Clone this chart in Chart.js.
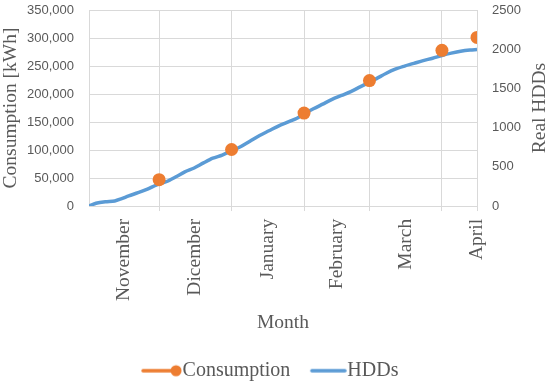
<!DOCTYPE html>
<html>
<head>
<meta charset="utf-8">
<script src="https://cdn.jsdelivr.net/npm/chart.js@4.4.0/dist/chart.umd.min.js"></script>
<style>
  html, body { margin: 0; padding: 0; background: #fff; }
</style>
</head>
<body>
<canvas id="grafica" width="550" height="383"></canvas>
<script>
// dias contados desde el 1 de noviembre
const meses = ['November', 'Dicember', 'January', 'February', 'March', 'April'];
const diasEtiqueta = [15, 45.5, 76.5, 106, 135.5, 166];
const diasFinMes = [30, 61, 92, 120, 151, 166];

// consumo acumulado al final de cada mes (kWh)
const diasConsumo = [30, 61, 92, 120, 151, 166];
const consumo = [47000, 101000, 166000, 224000, 278000, 301000];

// grados-dia reales acumulados
const diasHDD = [0, 3, 7, 11, 14, 17, 21, 25, 29, 33, 37, 41, 45, 49, 53, 57, 61, 65, 69, 73, 77, 81,
  85, 89, 92, 96, 100, 104, 108, 112, 116, 119, 123, 127, 131, 135, 139, 143, 147, 151, 155, 159, 163, 166];
const hdd = [0, 35, 55, 65, 95, 130, 170, 215, 270, 310, 370, 435, 485, 550, 610, 650, 705, 760, 830, 900, 960, 1020,
  1070, 1120, 1175, 1240, 1300, 1360, 1410, 1460, 1520, 1565, 1625, 1690, 1745, 1785, 1820, 1855, 1885, 1920, 1950, 1975, 1990, 1995];

const naranja = '#ED7D31';
const azul = '#5B9BD5';
const gris = '#595959';
const rejilla = '#d9d9d9';
const serif = "'Liberation Serif', serif";
const sans = "'Liberation Sans', sans-serif";

// iconos de la leyenda (linea con marcador, linea sola)
function iconoLeyenda(color, conPunto) {
  const c = document.createElement('canvas');
  c.width = 43; c.height = 14;
  const g = c.getContext('2d');
  g.strokeStyle = color;
  g.lineWidth = 3.5;
  g.lineCap = 'round';
  g.beginPath();
  g.moveTo(conPunto ? 4 : 8, 7);
  g.lineTo(conPunto ? 36 : 41, 7);
  g.stroke();
  if (conPunto) {
    g.fillStyle = color;
    g.beginPath();
    g.arc(37, 7, 5.5, 0, Math.PI * 2);
    g.fill();
  }
  return c;
}
const iconos = [iconoLeyenda(naranja, true), iconoLeyenda(azul, false)];

// sin relleno extra de las etiquetas en los bordes
const sinRelleno = axis => {
  axis.paddingLeft = 0;
  axis.paddingRight = 0;
  axis.paddingTop = 0;
  axis.paddingBottom = 0;
};

// titulo del eje derecho, leido de abajo hacia arriba como en el original
const tituloDerecho = {
  id: 'tituloDerecho',
  afterDraw(chart) {
    const a = chart.chartArea;
    const c = chart.ctx;
    c.save();
    c.translate(540, (a.top + a.bottom) / 2);
    c.rotate(-Math.PI / 2);
    c.font = `19.5px ${serif}`;
    c.fillStyle = gris;
    c.textAlign = 'center';
    c.textBaseline = 'middle';
    c.fillText('Real HDDs', 0, 0);
    c.restore();
  }
};

const ctx = document.getElementById('grafica').getContext('2d');
new Chart(ctx, {
  type: 'line',
  data: {
    datasets: [
      {
        label: 'Consumption',
        data: diasConsumo.map((d, i) => ({ x: d, y: consumo[i] })),
        yAxisID: 'y',
        showLine: false,
        backgroundColor: naranja,
        borderColor: naranja,
        pointRadius: 6.5,
        pointHoverRadius: 6.5,
        pointBorderWidth: 0
      },
      {
        label: 'HDDs',
        data: diasHDD.map((d, i) => ({ x: d, y: hdd[i] })),
        yAxisID: 'y1',
        borderColor: azul,
        backgroundColor: azul,
        borderWidth: 3.5,
        tension: 0.3,
        pointRadius: 0
      }
    ]
  },
  plugins: [tituloDerecho],
  options: {
    responsive: false,
    animation: false,
    devicePixelRatio: 1,
    layout: { padding: { top: 10, right: 2, left: -1, bottom: -7.75 } },
    plugins: {
      tooltip: { enabled: false },
      legend: {
        position: 'bottom',
        labels: {
          usePointStyle: true,
          pointStyleWidth: 24,
          padding: 23,
          color: gris,
          font: { family: serif, size: 20 },
          generateLabels: chart => chart.data.datasets.map((ds, i) => ({
            text: ds.label,
            pointStyle: iconos[i],
            fillStyle: ds.borderColor,
            strokeStyle: ds.borderColor,
            lineWidth: 0,
            datasetIndex: i,
            fontColor: gris
          }))
        }
      }
    },
    scales: {
      x: {
        type: 'linear',
        min: 0,
        max: 166,
        afterBuildTicks: axis => {
          const vals = [...new Set([...diasEtiqueta, ...diasFinMes])].sort((a, b) => a - b);
          axis.ticks = vals.map(v => ({ value: v }));
        },
        afterFit: sinRelleno,
        ticks: {
          autoSkip: false,
          minRotation: 90,
          maxRotation: 90,
          padding: 7.75,
          color: gris,
          font: { family: serif, size: 19.5 },
          callback: v => {
            const i = diasEtiqueta.indexOf(v);
            return i >= 0 ? meses[i] : '';
          }
        },
        grid: {
          color: c => (c.tick && diasFinMes.includes(c.tick.value)) ? rejilla : 'transparent',
          lineWidth: 1,
          tickLength: 5
        },
        border: { color: rejilla },
        title: {
          display: true,
          text: 'Month',
          color: gris,
          font: { family: serif, size: 19.5 },
          padding: { top: 2, bottom: 3.5 }
        }
      },
      y: {
        position: 'left',
        min: 0,
        max: 350000,
        afterFit: axis => {
          sinRelleno(axis);
          axis.width = 90;
        },
        ticks: {
          stepSize: 50000,
          padding: 15,
          color: gris,
          font: { family: sans, size: 13 },
          callback: v => v.toLocaleString('en-US')
        },
        grid: { color: rejilla, drawTicks: false },
        border: { color: rejilla },
        title: {
          display: true,
          text: 'Consumption [kWh]',
          color: gris,
          font: { family: serif, size: 19.5 },
          padding: { top: 0, bottom: 4 }
        }
      },
      y1: {
        position: 'right',
        min: 0,
        max: 2500,
        afterFit: axis => {
          sinRelleno(axis);
          axis.width = 71;
        },
        ticks: {
          stepSize: 500,
          padding: 15,
          color: gris,
          font: { family: sans, size: 13 },
          callback: v => String(v)
        },
        grid: { drawOnChartArea: false, drawTicks: false },
        border: { display: false }
      }
    }
  }
});
</script>
</body>
</html>
